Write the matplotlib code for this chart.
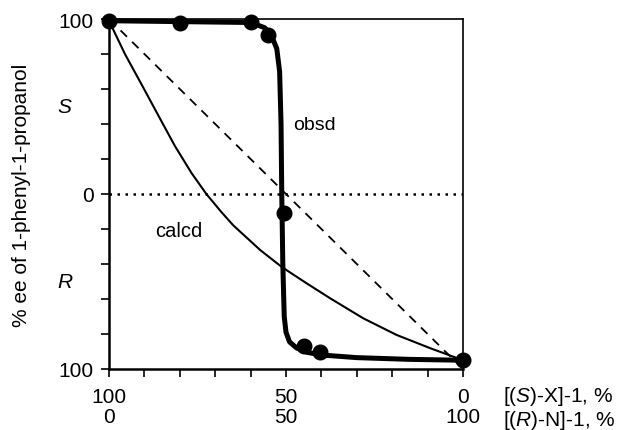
import matplotlib
matplotlib.use('Agg')
import matplotlib.pyplot as plt

plt.rcParams['font.family'] = ['Liberation Sans', 'DejaVu Sans']
plt.rcParams['mathtext.fontset'] = 'custom'
plt.rcParams['mathtext.rm'] = 'Liberation Sans'
plt.rcParams['mathtext.it'] = 'Liberation Sans:italic'

# observed points: % (S)-X in catalyst vs % ee (S positive, R negative)
obsd_x = [100, 80, 60, 55, 50.7, 45, 40.5, 0]
obsd_y = [99, 98, 98.5, 91, -11, -87, -90.5, -95]

obsd_line_x = [100, 80, 60, 56, 54, 52.6, 51.8, 51.4, 51.2, 50.9, 50.5, 50.0, 49, 47, 44, 40, 30, 15, 0]
obsd_line_y = [99, 98.5, 98, 95, 90, 83, 70, 40, 0, -40, -70, -79, -84.5, -88, -90.5, -92, -93.5, -94.5, -95]

# calculated curve
calcd_x = [100, 95.5, 90.8, 86.1, 81.4, 76.7, 72.5, 68.3, 64.9, 57.3, 51.2, 44.2, 37.6, 28.2, 18.8, 9.4, 0]
calcd_y = [99, 80, 62.6, 45, 27.5, 12, 0, -10.2, -17.9, -32, -41.7, -51, -59.5, -71, -80.5, -88, -95]

# linear (additive) reference
linear_x = [100, 0]
linear_y = [100, -100]

x_ticks = list(range(0, 101, 10))
x_ticklabels = ['0\n100', '', '', '', '', '50\n50', '', '', '', '', '100\n0']
y_ticks = list(range(-100, 101, 20))
y_ticklabels = ['100', '', '', '', '', '0', '', '', '', '', '100']

fig = plt.figure(figsize=(6.23, 4.31), dpi=100)
ax = fig.add_axes([109 / 623, 1 - 370 / 431, 354 / 623, 350 / 431])

ax.axhline(0, color='black', linestyle=(0, (1, 2.2)), linewidth=1.8)
ax.plot(linear_x, linear_y, color='black', linestyle=(0, (5, 4)), linewidth=1.3)
ax.plot(calcd_x, calcd_y, color='black', linewidth=1.5)
ax.plot(obsd_line_x, obsd_line_y, color='black', linewidth=3.6,
        solid_joinstyle='round', clip_on=False)
ax.plot(obsd_x, obsd_y, 'o', color='black', markersize=10.5, clip_on=False, zorder=5)

ax.set_xlim(100, 0)
ax.set_ylim(-100, 100)

ax.set_xticks(x_ticks)
ax.set_xticklabels(x_ticklabels, fontsize=15, linespacing=1.05)
ax.set_yticks(y_ticks)
ax.set_yticklabels(y_ticklabels, fontsize=15)
ax.tick_params(axis='both', direction='out', length=6, width=1.2, colors='black')
ax.tick_params(axis='x', pad=7)
ax.tick_params(axis='y', pad=5)

for side in ['left', 'bottom']:
    ax.spines[side].set_linewidth(1.8)
for side in ['top', 'right']:
    ax.spines[side].set_linewidth(1.2)

ax.set_ylabel('% ee of 1-phenyl-1-propanol', fontsize=15, labelpad=20)

ax.text(-0.125, 50, 'S', transform=ax.get_yaxis_transform(), fontsize=15,
        style='italic', ha='center', va='center')
ax.text(-0.125, -50, 'R', transform=ax.get_yaxis_transform(), fontsize=15,
        style='italic', ha='center', va='center')

ax.text(48, 40, 'obsd', fontsize=14, ha='left', va='center')
ax.text(87, -21, 'calcd', fontsize=14.5, ha='left', va='center')

ax.text(1.113, -0.077, r'[($\mathit{S}$)-X]-1, %', transform=ax.transAxes,
        fontsize=15, ha='left', va='center')
ax.text(1.113, -0.143, r'[($\mathit{R}$)-N]-1, %', transform=ax.transAxes,
        fontsize=15, ha='left', va='center')

fig.savefig('out.png', dpi=100)
